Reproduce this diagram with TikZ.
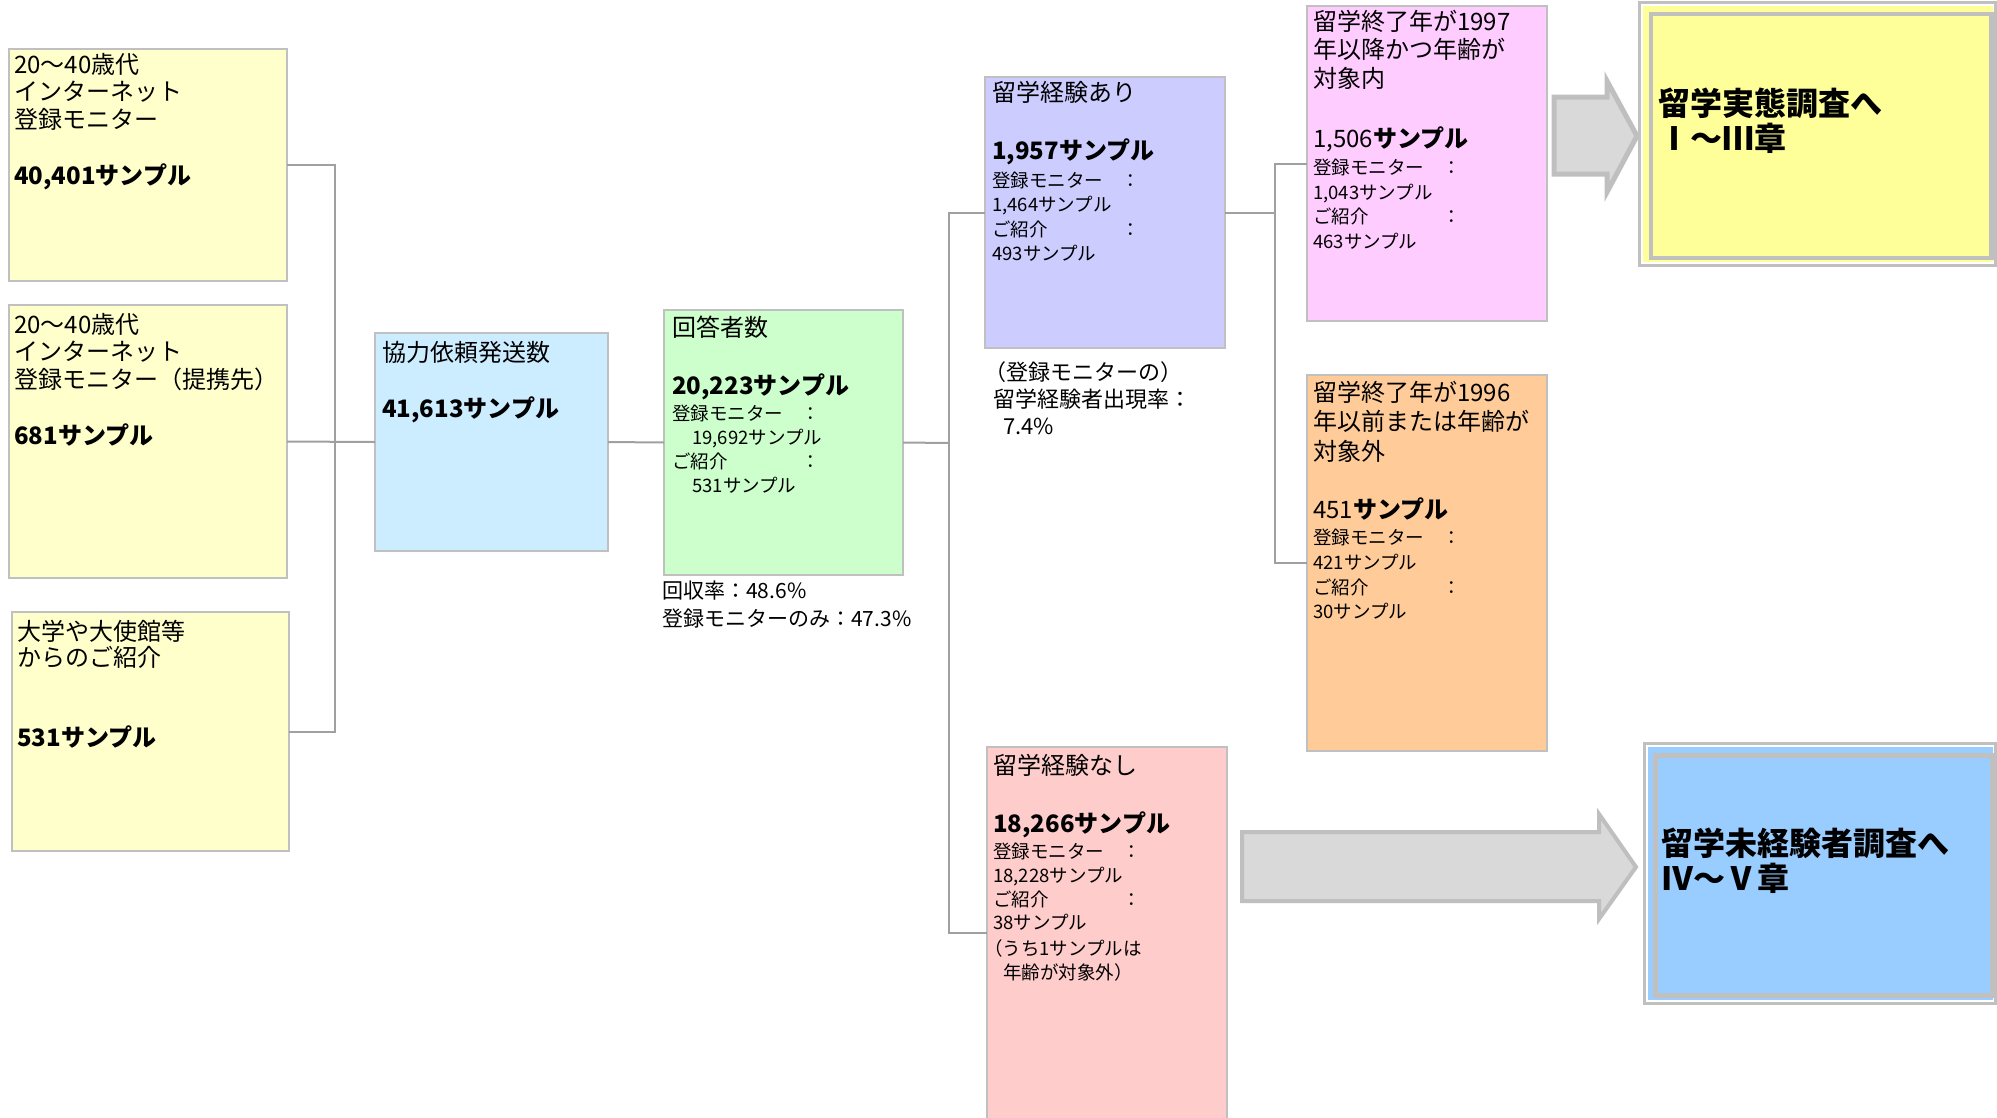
\documentclass[tikz,border=0pt]{standalone}
\usepackage{fontspec}
\setmainfont{Noto Sans CJK JP}
\definecolor{yA}{HTML}{FFFFCC}
\definecolor{bD}{HTML}{CCECFF}
\definecolor{gE}{HTML}{CCFFCC}
\definecolor{pF}{HTML}{CCCCFF}
\definecolor{pkG}{HTML}{FFCCFF}
\definecolor{oH}{HTML}{FFCC99}
\definecolor{rI}{HTML}{FFCCCC}
\definecolor{yJ}{HTML}{FFFF99}
\definecolor{bK}{HTML}{99CCFF}
\definecolor{bord}{HTML}{C0C0C0}
\definecolor{connc}{HTML}{A0A0A0}
\definecolor{arrF}{HTML}{D9D9D9}
\definecolor{arrB}{HTML}{BFBFBF}
\begin{document}
\begin{tikzpicture}[x=1pt,y=-1pt,
  box/.style={draw=bord, line width=1.5pt, inner sep=0pt, outer sep=0pt, anchor=north west},
  wire/.style={draw=connc, line width=2pt},
  tx/.style={anchor=base west, inner sep=0pt, font=\fontsize{24}{28}\selectfont},
  bd/.style={anchor=base west, inner sep=0pt, font=\fontsize{24}{28}\selectfont\bfseries},
  sm/.style={anchor=base west, inner sep=0pt, font=\fontsize{18.5}{22}\selectfont},
  nt/.style={anchor=base west, inner sep=0pt, font=\fontsize{21}{25}\selectfont},
  mt/.style={anchor=base west, inner sep=0pt, font=\fontsize{22}{26}\selectfont},
  big/.style={anchor=base west, inner sep=0pt, font=\fontsize{32}{36}\selectfont\bfseries},
  arrow shape/.style={draw=arrB, fill=arrF, line width=4pt, line join=miter}
]
\useasboundingbox (0,0) rectangle (1997,1117);
\fill[white] (0,0) rectangle (1997,1117);

% boxes
\node[box, fill=yA, minimum width=278pt, minimum height=232pt] (A) at (9,49) {};
\node[box, fill=yA, minimum width=278pt, minimum height=273pt] (B) at (9,305) {};
\node[box, fill=yA, minimum width=277pt, minimum height=239pt] (C) at (12,612) {};
\node[box, fill=bD, minimum width=233pt, minimum height=218pt] (D) at (375,333) {};
\node[box, fill=gE, minimum width=239pt, minimum height=265pt] (E) at (664,310) {};
\node[box, fill=pF, minimum width=240pt, minimum height=271pt] (F) at (985,77) {};
\node[box, fill=pkG, minimum width=240pt, minimum height=315pt] (G) at (1307,6) {};
\node[box, fill=oH, minimum width=240pt, minimum height=376pt] (H) at (1307,375) {};
\node[box, fill=rI, minimum width=240pt, minimum height=372pt] (I) at (987,747) {};

% connectors
\draw[wire] (A.east) -- (335,165) |- (C.east);
\draw[wire] (B.east) -- (D.west);
\draw[wire] (D.east) -- (E.west);
\coordinate (j2) at (949,443);
\draw[wire] (E.east) -- (j2);
\draw[wire] (F.west) -- (F.west -| j2) -- (I.west -| j2) -- (I.west);
\coordinate (j3) at (1275,300);
\draw[wire] (F.east) -- (F.east -| j3);
\draw[wire] (G.west) -- (G.west -| j3) -- (H.west -| j3) -- (H.west);

% big arrows
\draw[arrow shape, line width=5pt] (1554,97) -- (1607,97) -- (1607,81) -- (1637,136) -- (1607,192) -- (1607,174) -- (1554,174) -- cycle;
\draw[arrow shape] (1242,832) -- (1599,832) -- (1599,814) -- (1636,867) -- (1599,919) -- (1599,901) -- (1242,901) -- cycle;

% target boxes
\draw[draw=bord, line width=3pt, fill=white] (1639.3,2.8) rectangle (1995.5,265);
\fill[yJ] (1642.5,6) rectangle (1992.5,261.5);
\node[draw=bord, line width=4.5pt, fill=yJ, inner sep=0pt, anchor=north west, minimum width=340.5pt, minimum height=243.8pt] (J) at (1648.5,11.7) {};
\draw[draw=bord, line width=3pt, fill=white] (1644,743.3) rectangle (1995.5,1003.3);
\fill[bK] (1647.5,747) rectangle (1992.5,1000);
\node[draw=bord, line width=5pt, fill=bK, inner sep=0pt, anchor=north west, minimum width=337pt, minimum height=240pt] (K) at (1653,752.5) {};

% texts A
\node[tx] (a1) at (14,73) {20～40歳代};
\node[tx] (a2) at (14,100) {インターネット};
\node[tx] (a3) at (14,128) {登録モニター};
\node[bd] (a4) at (14,184) {40,401サンプル};
% B
\node[tx] (b1) at (14,333) {20～40歳代};
\node[tx] (b2) at (14,360) {インターネット};
\node[tx] (b3) at (14,388) {登録モニター（提携先）};
\node[bd] (b4) at (14,444) {681サンプル};
% C
\node[tx] (c1) at (17,640) {大学や大使館等};
\node[tx] (c2) at (17,666) {からのご紹介};
\node[bd] (c3) at (17,746) {531サンプル};
% D
\node[tx] (d1) at (382,361) {協力依頼発送数};
\node[bd] (d2) at (382,417) {41,613サンプル};
% E
\node[tx] (e1) at (672,336) {回答者数};
\node[bd] (e2) at (672,394) {20,223サンプル};
\node[sm] (e3) at (672,420) {登録モニター　：};
\node[sm] (e4) at (692,444) {19,692サンプル};
\node[sm] (e5) at (672,468) {ご紹介　　　　：};
\node[sm] (e6) at (692,492) {531サンプル};
\node[nt] (r1) at (662,598) {回収率：48.6\%};
\node[nt] (r2) at (662,626) {登録モニターのみ：47.3\%};
% F
\node[tx] (f1) at (992,101) {留学経験あり};
\node[bd] (f2) at (992,159) {1,957サンプル};
\node[sm] (f3) at (992,187) {登録モニター　：};
\node[sm] (f4) at (992,211) {1,464サンプル};
\node[sm] (f5) at (992,236) {ご紹介　　　　：};
\node[sm] (f6) at (992,260) {493サンプル};
\node[mt] (n1) at (984,380) {（登録モニターの）};
\node[mt] (n2) at (993,407) {留学経験者出現率：};
\node[mt] (n3) at (1003,434) {7.4\%};
% G
\node[tx] (g1) at (1313,30) {留学終了年が1997};
\node[tx] (g2) at (1313,58) {年以降かつ年齢が};
\node[tx] (g3) at (1313,87) {対象内};
\node[tx] (g4) at (1313,147) {1,506\textbf{サンプル}};
\node[sm] (g5) at (1313,174) {登録モニター　：};
\node[sm] (g6) at (1313,199) {1,043サンプル};
\node[sm] (g7) at (1313,223) {ご紹介　　　　：};
\node[sm] (g8) at (1313,248) {463サンプル};
% H
\node[tx] (h1) at (1313,401) {留学終了年が1996};
\node[tx] (h2) at (1313,430) {年以前または年齢が};
\node[tx] (h3) at (1313,460) {対象外};
\node[tx] (h4) at (1313,518) {451\textbf{サンプル}};
\node[sm] (h5) at (1313,544) {登録モニター　：};
\node[sm] (h6) at (1313,569) {421サンプル};
\node[sm] (h7) at (1313,594) {ご紹介　　　　：};
\node[sm] (h8) at (1313,618) {30サンプル};
% I
\node[tx] (i1) at (993,774) {留学経験なし};
\node[bd] (i2) at (993,832) {18,266サンプル};
\node[sm] (i3) at (993,858) {登録モニター　：};
\node[sm] (i4) at (993,882) {18,228サンプル};
\node[sm] (i5) at (993,906) {ご紹介　　　　：};
\node[sm] (i6) at (993,929) {38サンプル};
\node[sm] (i7) at (984,955) {（うち1サンプルは};
\node[sm] (i8) at (1003,979) {年齢が対象外）};
% big texts
\node[big] (j1) at (1658,115) {留学実態調査へ};
\node[big] (j2t) at (1658,150) {Ⅰ～Ⅲ章};
\node[big] (k1) at (1661,855) {留学未経験者調査へ};
\node[big] (k2) at (1661,890) {Ⅳ～Ⅴ章};
\end{tikzpicture}
\end{document}
